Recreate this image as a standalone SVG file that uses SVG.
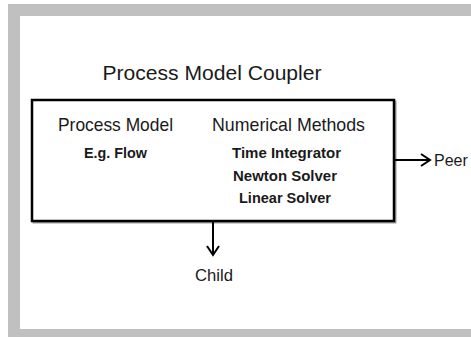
<svg xmlns="http://www.w3.org/2000/svg" width="471" height="337" viewBox="0 0 471 337">
<defs>
<style>
.t{font-family:"Liberation Sans","Open Sans",Arial,sans-serif;fill:#1a1a1a;text-anchor:middle}
.h{font-size:19px}
.b{font-size:14px;font-weight:bold}
.ln{stroke:#000;stroke-width:2;fill:none}
</style>
<marker id="ah" markerWidth="12" markerHeight="14" refX="10" refY="7" orient="auto" markerUnits="userSpaceOnUse">
<path d="M1,1 L10,7 L1,13" fill="none" stroke="#000" stroke-width="2"/>
</marker>
</defs>
<rect x="0" y="0" width="471" height="337" fill="#ffffff"/>
<rect x="8" y="4" width="463" height="333" fill="#c0c0c0"/>
<rect x="20" y="16" width="451" height="313" fill="#ffffff"/>
<text class="t" x="212" y="80" font-size="20" textLength="219" lengthAdjust="spacingAndGlyphs">Process Model Coupler</text>
<g id="coupler">
<rect x="33.5" y="101.5" width="362" height="121" fill="none" stroke="#9a9a9a" stroke-width="2"/>
<rect x="32" y="100" width="362" height="121" fill="#ffffff" stroke="#000" stroke-width="2.5"/>
<text class="t h" x="115.5" y="131" textLength="115" lengthAdjust="spacingAndGlyphs">Process Model</text>
<text class="t b" x="115.5" y="158" textLength="63" lengthAdjust="spacingAndGlyphs">E.g. Flow</text>
<text class="t h" x="288.5" y="131" textLength="153" lengthAdjust="spacingAndGlyphs">Numerical Methods</text>
<text class="t b" x="286.5" y="158" textLength="109" lengthAdjust="spacingAndGlyphs">Time Integrator</text>
<text class="t b" x="285" y="181" textLength="104" lengthAdjust="spacingAndGlyphs">Newton Solver</text>
<text class="t b" x="285" y="203" textLength="92" lengthAdjust="spacingAndGlyphs">Linear Solver</text>
</g>
<g id="connectors">
<line class="ln" x1="395" y1="160" x2="430" y2="160" marker-end="url(#ah)"/>
<line class="ln" x1="213" y1="222" x2="213" y2="255" marker-end="url(#ah)"/>
</g>
<g id="peer">
<text class="t" x="434" y="166" font-size="16" style="text-anchor:start">Peer</text>
</g>
<g id="child">
<text class="t" x="214" y="281" font-size="17" textLength="38" lengthAdjust="spacingAndGlyphs">Child</text>
</g>
</svg>
